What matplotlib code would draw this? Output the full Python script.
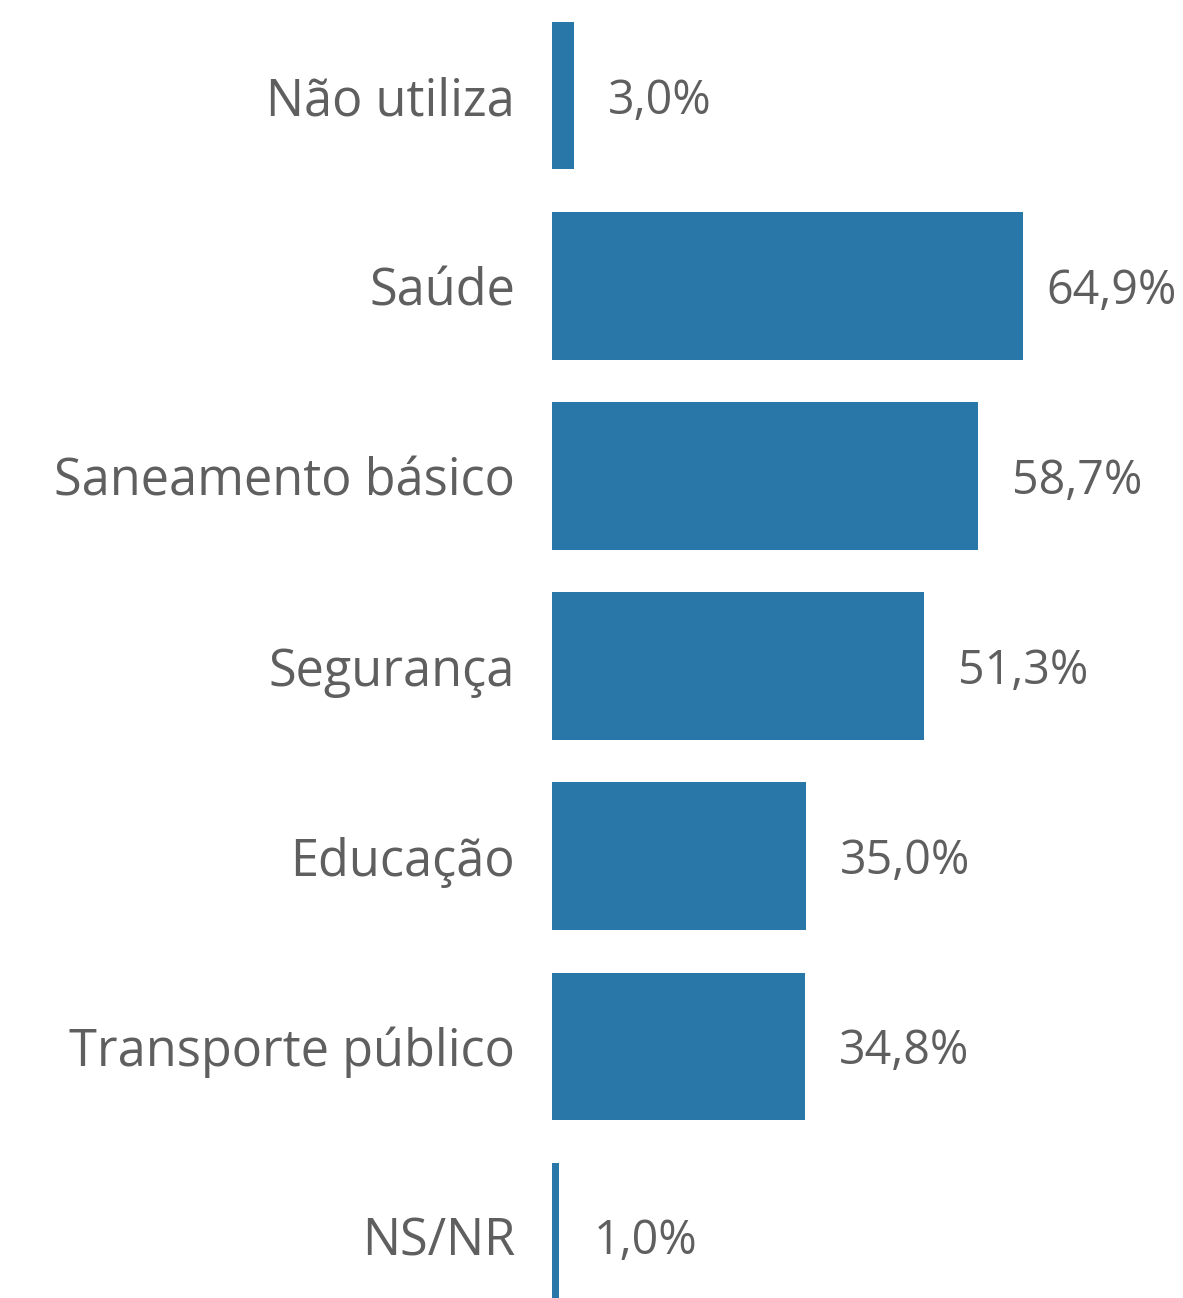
import matplotlib
matplotlib.use("Agg")
import matplotlib.pyplot as plt
from matplotlib.transforms import offset_copy

categories = ["Não utiliza", "Saúde", "Saneamento básico", "Segurança",
              "Educação", "Transporte público", "NS/NR"]
values = [3.0, 64.9, 58.7, 51.3, 35.0, 34.8, 1.0]
value_labels = ["3,0%", "64,9%", "58,7%", "51,3%", "35,0%", "34,8%", "1,0%"]

W, H, DPI = 1183, 1298, 100
fig = plt.figure(figsize=(W / DPI, H / DPI), dpi=DPI)
fig.patch.set_facecolor("white")

ax_left = 552 / W
ax = fig.add_axes([ax_left, 0, 1 - ax_left, 1])
ax.set_facecolor("white")

bar_color = "#2976a8"
text_color = "#5f5f5f"
font = "Open Sans"
fs_cat = 36.4
fs_val = 33.5

y = list(range(len(categories)))
ax.barh(y, values, height=0.774, color=bar_color)

ax.set_ylim(6.326, -0.505)
ax.set_xlim(0, 631 / 7.26)

ax.set_yticks(y)
ax.set_yticklabels(categories, fontsize=fs_cat, color=text_color, family=font)
ax.tick_params(axis="y", length=0, pad=37 * 72 / DPI)
ax.set_xticks([])
for s in ax.spines.values():
    s.set_visible(False)

vmax = max(values)
for yi, v, lab in zip(y, values, value_labels):
    off = 23 if v == vmax else 34
    tr = offset_copy(ax.transData, fig=fig, x=off * 72 / DPI, y=0, units="points")
    ax.text(v, yi, lab, transform=tr, ha="left", va="center_baseline",
            fontsize=fs_val, color=text_color, family=font, clip_on=False)

fig.savefig("out.png", dpi=DPI, facecolor="white")
